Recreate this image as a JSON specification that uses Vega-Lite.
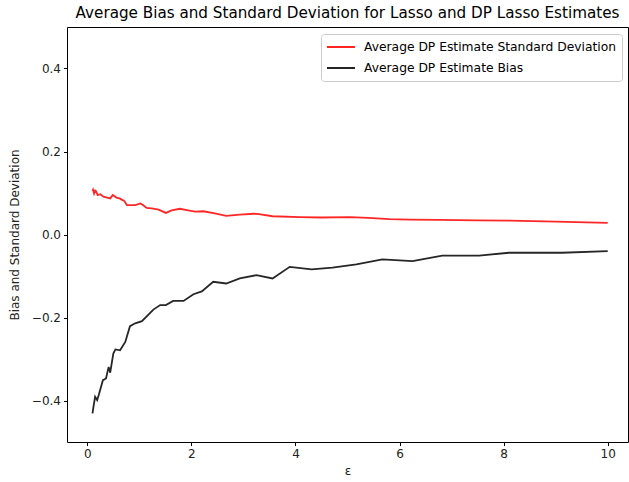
{
  "$schema": "https://vega.github.io/schema/vega-lite/v6.json",
  "autosize": {"type": "none"},
  "padding": {"left": 67, "top": 27, "right": 1, "bottom": 40},
  "width": 561,
  "height": 415,
  "background": "white",
  "title": {
    "text": "Average Bias and Standard Deviation for Lasso and DP Lasso Estimates",
    "font": "DejaVu Sans",
    "fontSize": 15.2,
    "fontWeight": "normal",
    "color": "#000",
    "anchor": "middle",
    "offset": 6
  },
  "config": {
    "font": "DejaVu Sans",
    "view": {"stroke": "#000", "strokeWidth": 1},
    "axis": {
      "grid": false,
      "domain": false,
      "tickColor": "#000",
      "tickSize": 3.5,
      "labelFont": "DejaVu Sans",
      "labelFontSize": 12,
      "labelColor": "#222",
      "titleFont": "DejaVu Sans",
      "titleFontSize": 12,
      "titleFontWeight": "normal",
      "titleColor": "#222",
      "labelPadding": 3
    }
  },
  "data": {
    "values": [
      {"eps": 0.10, "value": 0.105, "series": "Average DP Estimate Standard Deviation"},
      {"eps": 0.11, "value": 0.108, "series": "Average DP Estimate Standard Deviation"},
      {"eps": 0.13, "value": 0.099, "series": "Average DP Estimate Standard Deviation"},
      {"eps": 0.15, "value": 0.106, "series": "Average DP Estimate Standard Deviation"},
      {"eps": 0.17, "value": 0.104, "series": "Average DP Estimate Standard Deviation"},
      {"eps": 0.20, "value": 0.095, "series": "Average DP Estimate Standard Deviation"},
      {"eps": 0.25, "value": 0.097, "series": "Average DP Estimate Standard Deviation"},
      {"eps": 0.31, "value": 0.091, "series": "Average DP Estimate Standard Deviation"},
      {"eps": 0.38, "value": 0.089, "series": "Average DP Estimate Standard Deviation"},
      {"eps": 0.44, "value": 0.087, "series": "Average DP Estimate Standard Deviation"},
      {"eps": 0.49, "value": 0.095, "series": "Average DP Estimate Standard Deviation"},
      {"eps": 0.56, "value": 0.089, "series": "Average DP Estimate Standard Deviation"},
      {"eps": 0.62, "value": 0.087, "series": "Average DP Estimate Standard Deviation"},
      {"eps": 0.66, "value": 0.084, "series": "Average DP Estimate Standard Deviation"},
      {"eps": 0.71, "value": 0.081, "series": "Average DP Estimate Standard Deviation"},
      {"eps": 0.76, "value": 0.071, "series": "Average DP Estimate Standard Deviation"},
      {"eps": 0.82, "value": 0.071, "series": "Average DP Estimate Standard Deviation"},
      {"eps": 0.92, "value": 0.071, "series": "Average DP Estimate Standard Deviation"},
      {"eps": 1.02, "value": 0.075, "series": "Average DP Estimate Standard Deviation"},
      {"eps": 1.07, "value": 0.071, "series": "Average DP Estimate Standard Deviation"},
      {"eps": 1.14, "value": 0.064, "series": "Average DP Estimate Standard Deviation"},
      {"eps": 1.24, "value": 0.063, "series": "Average DP Estimate Standard Deviation"},
      {"eps": 1.37, "value": 0.060, "series": "Average DP Estimate Standard Deviation"},
      {"eps": 1.51, "value": 0.052, "series": "Average DP Estimate Standard Deviation"},
      {"eps": 1.62, "value": 0.058, "series": "Average DP Estimate Standard Deviation"},
      {"eps": 1.78, "value": 0.062, "series": "Average DP Estimate Standard Deviation"},
      {"eps": 1.91, "value": 0.059, "series": "Average DP Estimate Standard Deviation"},
      {"eps": 2.07, "value": 0.055, "series": "Average DP Estimate Standard Deviation"},
      {"eps": 2.23, "value": 0.056, "series": "Average DP Estimate Standard Deviation"},
      {"eps": 2.45, "value": 0.051, "series": "Average DP Estimate Standard Deviation"},
      {"eps": 2.67, "value": 0.045, "series": "Average DP Estimate Standard Deviation"},
      {"eps": 2.93, "value": 0.048, "series": "Average DP Estimate Standard Deviation"},
      {"eps": 3.20, "value": 0.050, "series": "Average DP Estimate Standard Deviation"},
      {"eps": 3.30, "value": 0.049, "series": "Average DP Estimate Standard Deviation"},
      {"eps": 3.56, "value": 0.044, "series": "Average DP Estimate Standard Deviation"},
      {"eps": 4.08, "value": 0.042, "series": "Average DP Estimate Standard Deviation"},
      {"eps": 4.50, "value": 0.041, "series": "Average DP Estimate Standard Deviation"},
      {"eps": 5.05, "value": 0.042, "series": "Average DP Estimate Standard Deviation"},
      {"eps": 5.40, "value": 0.040, "series": "Average DP Estimate Standard Deviation"},
      {"eps": 5.80, "value": 0.037, "series": "Average DP Estimate Standard Deviation"},
      {"eps": 6.20, "value": 0.036, "series": "Average DP Estimate Standard Deviation"},
      {"eps": 6.76, "value": 0.035, "series": "Average DP Estimate Standard Deviation"},
      {"eps": 7.50, "value": 0.034, "series": "Average DP Estimate Standard Deviation"},
      {"eps": 8.35, "value": 0.033, "series": "Average DP Estimate Standard Deviation"},
      {"eps": 9.00, "value": 0.031, "series": "Average DP Estimate Standard Deviation"},
      {"eps": 10.0, "value": 0.028, "series": "Average DP Estimate Standard Deviation"},
      {"eps": 0.10, "value": -0.431, "series": "Average DP Estimate Bias"},
      {"eps": 0.12, "value": -0.414, "series": "Average DP Estimate Bias"},
      {"eps": 0.15, "value": -0.391, "series": "Average DP Estimate Bias"},
      {"eps": 0.19, "value": -0.399, "series": "Average DP Estimate Bias"},
      {"eps": 0.22, "value": -0.387, "series": "Average DP Estimate Bias"},
      {"eps": 0.30, "value": -0.351, "series": "Average DP Estimate Bias"},
      {"eps": 0.36, "value": -0.347, "series": "Average DP Estimate Bias"},
      {"eps": 0.41, "value": -0.319, "series": "Average DP Estimate Bias"},
      {"eps": 0.44, "value": -0.333, "series": "Average DP Estimate Bias"},
      {"eps": 0.50, "value": -0.287, "series": "Average DP Estimate Bias"},
      {"eps": 0.54, "value": -0.277, "series": "Average DP Estimate Bias"},
      {"eps": 0.63, "value": -0.279, "series": "Average DP Estimate Bias"},
      {"eps": 0.73, "value": -0.259, "series": "Average DP Estimate Bias"},
      {"eps": 0.82, "value": -0.221, "series": "Average DP Estimate Bias"},
      {"eps": 0.92, "value": -0.214, "series": "Average DP Estimate Bias"},
      {"eps": 1.05, "value": -0.209, "series": "Average DP Estimate Bias"},
      {"eps": 1.27, "value": -0.181, "series": "Average DP Estimate Bias"},
      {"eps": 1.40, "value": -0.170, "series": "Average DP Estimate Bias"},
      {"eps": 1.51, "value": -0.170, "series": "Average DP Estimate Bias"},
      {"eps": 1.65, "value": -0.160, "series": "Average DP Estimate Bias"},
      {"eps": 1.85, "value": -0.160, "series": "Average DP Estimate Bias"},
      {"eps": 2.04, "value": -0.144, "series": "Average DP Estimate Bias"},
      {"eps": 2.20, "value": -0.137, "series": "Average DP Estimate Bias"},
      {"eps": 2.42, "value": -0.114, "series": "Average DP Estimate Bias"},
      {"eps": 2.67, "value": -0.118, "series": "Average DP Estimate Bias"},
      {"eps": 2.93, "value": -0.106, "series": "Average DP Estimate Bias"},
      {"eps": 3.25, "value": -0.098, "series": "Average DP Estimate Bias"},
      {"eps": 3.56, "value": -0.106, "series": "Average DP Estimate Bias"},
      {"eps": 3.89, "value": -0.078, "series": "Average DP Estimate Bias"},
      {"eps": 4.31, "value": -0.084, "series": "Average DP Estimate Bias"},
      {"eps": 4.71, "value": -0.080, "series": "Average DP Estimate Bias"},
      {"eps": 5.17, "value": -0.072, "series": "Average DP Estimate Bias"},
      {"eps": 5.67, "value": -0.060, "series": "Average DP Estimate Bias"},
      {"eps": 6.25, "value": -0.064, "series": "Average DP Estimate Bias"},
      {"eps": 6.82, "value": -0.051, "series": "Average DP Estimate Bias"},
      {"eps": 7.53, "value": -0.051, "series": "Average DP Estimate Bias"},
      {"eps": 8.10, "value": -0.044, "series": "Average DP Estimate Bias"},
      {"eps": 9.12, "value": -0.044, "series": "Average DP Estimate Bias"},
      {"eps": 10.0, "value": -0.040, "series": "Average DP Estimate Bias"}
    ]
  },
  "mark": {"type": "line", "strokeWidth": 1.8, "strokeOpacity": 0.85, "clip": true},
  "encoding": {
    "x": {
      "field": "eps",
      "type": "quantitative",
      "scale": {"domain": [-0.39, 10.39], "nice": false, "zero": false},
      "axis": {"values": [0, 2, 4, 6, 8, 10], "format": "d", "title": "ε", "titlePadding": 6}
    },
    "y": {
      "field": "value",
      "type": "quantitative",
      "scale": {"domain": [-0.5, 0.5], "nice": false},
      "axis": {"values": [-0.4, -0.2, 0, 0.2, 0.4], "format": ".1f", "title": "Bias and Standard Deviation", "titlePadding": 10}
    },
    "color": {
      "field": "series",
      "type": "nominal",
      "sort": null,
      "scale": {
        "domain": ["Average DP Estimate Standard Deviation", "Average DP Estimate Bias"],
        "range": ["red", "black"]
      },
      "legend": {
        "title": null,
        "orient": "none",
        "legendX": 254,
        "legendY": 7,
        "direction": "vertical",
        "fillColor": "white",
        "strokeColor": "#ccc",
        "cornerRadius": 3,
        "padding": 5,
        "symbolType": "stroke",
        "symbolSize": 784,
        "symbolStrokeWidth": 2,
        "symbolOpacity": 0.85,
        "clipHeight": 16,
        "labelLimit": 400,
        "labelFont": "DejaVu Sans",
        "labelFontSize": 12.3,
        "labelColor": "#000",
        "labelOffset": 8,
        "rowPadding": 5
      }
    }
  }
}
